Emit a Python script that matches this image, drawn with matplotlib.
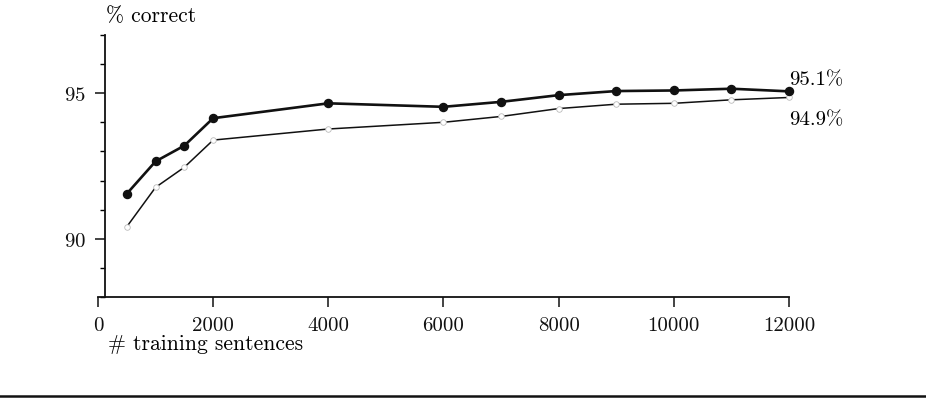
"""Accuracy vs. training set size, two tagger variants."""

import matplotlib.pyplot as plt
from matplotlib.lines import Line2D
from matplotlib.ticker import MultipleLocator

plt.rcParams["font.family"] = ["cmr10", "DejaVu Serif"]
plt.rcParams["axes.formatter.use_mathtext"] = True

sentences = [500, 1000, 1500, 2000, 4000, 6000, 7000, 8000, 9000, 10000, 11000, 12000]
acc_upper = [91.55, 92.66, 93.2, 94.14, 94.65, 94.53, 94.70, 94.93, 95.07, 95.09, 95.15, 95.06]
acc_lower = [90.42, 91.77, 92.46, 93.39, 93.77, 94.0, 94.2, 94.47, 94.62, 94.65, 94.77, 94.85]
end_labels = ["95.1%", "94.9%"]
x_ticks = [0, 2000, 4000, 6000, 8000, 10000, 12000]
y_ticks = [90, 95]

fig = plt.figure(figsize=(9.26, 4.06), dpi=100)
ax = fig.add_axes([0.1058, 0.265, 0.7462, 0.647])

ink = "#111111"
ax.plot(sentences, acc_upper, color=ink, lw=1.9, marker="o", ms=5.8,
        mfc=ink, mec=ink, clip_on=False, zorder=3)
ax.plot(sentences, acc_lower, color=ink, lw=1.1, marker="o", ms=4.0,
        mfc="white", mec="#bbbbbb", mew=0.6, clip_on=False, zorder=2)

ax.annotate(end_labels[0], xy=(sentences[-1], acc_upper[-1]), xytext=(0, 9),
            textcoords="offset points", ha="left", va="center", fontsize=15,
            annotation_clip=False)
ax.annotate(end_labels[1], xy=(sentences[-1], acc_lower[-1]), xytext=(0, -16),
            textcoords="offset points", ha="left", va="center", fontsize=15,
            annotation_clip=False)

ax.set_xlim(0, 12000)
ax.set_ylim(88, 97)
ax.set_xticks(x_ticks)
ax.set_xticklabels([str(t) for t in x_ticks])
ax.set_yticks(y_ticks)
ax.yaxis.set_minor_locator(MultipleLocator(1))

for side in ("top", "right"):
    ax.spines[side].set_visible(False)
ax.spines["left"].set_position(("data", 120))
for side in ("left", "bottom"):
    ax.spines[side].set_linewidth(1.3)
    ax.spines[side].set_color(ink)

ax.tick_params(axis="both", which="major", direction="out", length=7.5,
               width=1.1, pad=6, labelsize=15, colors=ink)
ax.tick_params(axis="y", which="minor", direction="out", length=3.8, width=1.0)
ax.tick_params(axis="x", which="minor", length=0)

fig.text(106 / 926, 1 - 16 / 406, "% correct", ha="left", va="center", fontsize=15.5)
fig.text(108 / 926, 1 - 344 / 406, "# training sentences", ha="left", va="center",
         fontsize=15.5)

# page rule under the figure
fig.add_artist(Line2D([0, 1], [1 - 397 / 406] * 2, transform=fig.transFigure,
                      color=ink, lw=1.8))

fig.savefig("out.png", dpi=100)
